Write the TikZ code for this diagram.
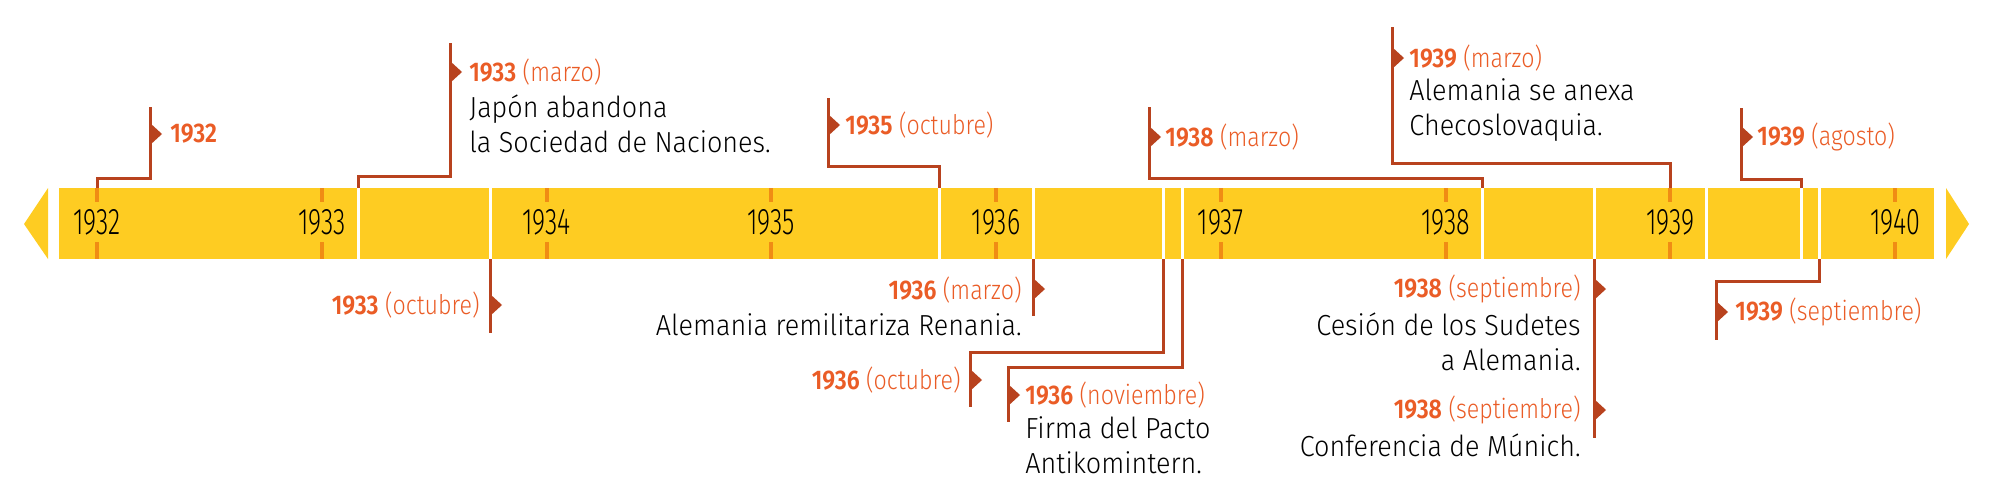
\documentclass[tikz,border=0pt]{standalone}
\usepackage{fontspec}
\setmainfont{Fira Sans Light}[BoldFont={Fira Sans SemiBold}, FakeStretch=0.93]
\newfontfamily\labfont{Fira Sans Light}[BoldFont={Fira Sans SemiBold}, FakeStretch=0.86]
\newfontfamily\barfont{Fira Sans Light}[FakeStretch=0.68]
\definecolor{barYellow}{RGB}{254,204,34}
\definecolor{tickOrange}{RGB}{240,140,20}
\definecolor{rust}{RGB}{184,66,30}
\definecolor{labOrange}{RGB}{234,92,38}
\newcommand{\evflag}[2]{\fill[rust] (#1,#2-11) -- ++(12,11) -- ++(-12,11) -- cycle;}

\begin{document}
\begin{tikzpicture}[x=0.5pt,y=-0.5pt,
  conn/.style={draw=rust,line width=1.5pt},
  yearlab/.style={inner sep=0pt,text=labOrange,font=\labfont\fontsize{13.5}{15}\selectfont},
  body/.style={inner sep=0pt,text=black,font=\fontsize{14.5}{17.5}\selectfont},
  baryear/.style={inner sep=0pt,font=\barfont\fontsize{18.5}{20}\selectfont}]
\useasboundingbox (0,0) rectangle (2000,498);
\fill[barYellow] (59,188) rectangle (1934,259);
\fill[barYellow] (48,188) -- (24,224) -- (48,259) -- cycle;
\fill[barYellow] (1946,188) -- (1969,224) -- (1946,259) -- cycle;
\foreach \yr [count=\i from 0] in {1932,...,1940}{
  \pgfmathsetmacro{\tx}{97+224.75*\i}
  \draw[tickOrange,line width=2pt] (\tx,188) -- (\tx,202) (\tx,242) -- (\tx,259);
  \node[baryear] (y\yr) at (\tx,222) {\yr};
}
\foreach \sx in {358,490,939,1033,1163,1182,1482,1594,1706,1801,1819}
  \draw[white,line width=1.5pt] (\sx,187) -- (\sx,260);

% 1932
\coordinate (b1) at (97,188);
\coordinate (e1) at (150,107);
\draw[conn] (b1) -- ++(0,-10) -| (e1);
\evflag{150}{134}
\node[yearlab,anchor=west] (l1) at (170,134) {\textbf{1932}};
% 1933 marzo
\coordinate (b2) at (358,188);
\coordinate (e2) at (450,43);
\draw[conn] (b2) -- ++(0,-12) -| (e2);
\evflag{450}{72}
\node[yearlab,anchor=west] (l2) at (469,72) {\textbf{1933} (marzo)};
\node[body,anchor=west,align=left] (t2) at (469,124) {Japón abandona\\la Sociedad de Naciones.};
% 1933 octubre
\coordinate (b3) at (490,259);
\coordinate (e3) at (490,333);
\draw[conn] (b3) -- (e3);
\evflag{490}{305}
\node[yearlab,anchor=east] (l3) at (480,305) {\textbf{1933} (octubre)};
% 1935 octubre
\coordinate (b4) at (939,188);
\coordinate (e4) at (828,98);
\draw[conn] (b4) -- ++(0,-22) -| (e4);
\evflag{828}{125}
\node[yearlab,anchor=west] (l4) at (845,125) {\textbf{1935} (octubre)};
% 1936 marzo
\coordinate (b5) at (1033,259);
\coordinate (e5) at (1033,316);
\draw[conn] (b5) -- (e5);
\evflag{1033}{289}
\node[yearlab,anchor=east] (l5) at (1022,290) {\textbf{1936} (marzo)};
\node[body,anchor=east] (t5) at (1022,325) {Alemania remilitariza Renania.};
% 1936 octubre
\coordinate (b6) at (1163,259);
\coordinate (e6) at (970,407);
\draw[conn] (b6) -- ++(0,93) -| (e6);
\evflag{970}{380}
\node[yearlab,anchor=east] (l6) at (961,380) {\textbf{1936} (octubre)};
% 1936 noviembre
\coordinate (b7) at (1182,259);
\coordinate (e7) at (1008,422);
\draw[conn] (b7) -- ++(0,108) -| (e7);
\evflag{1008}{395}
\node[yearlab,anchor=west] (l7) at (1025,395) {\textbf{1936} (noviembre)};
\node[body,anchor=west,align=left] (t7) at (1025,445) {Firma del Pacto\\Antikomintern.};
% 1938 marzo
\coordinate (b8) at (1482,188);
\coordinate (e8) at (1149,107);
\draw[conn] (b8) -- ++(0,-10) -| (e8);
\evflag{1149}{137}
\node[yearlab,anchor=west] (l8) at (1165,137) {\textbf{1938} (marzo)};
% 1939 marzo
\coordinate (b9) at (1670,188);
\coordinate (e9) at (1392,27);
\draw[conn] (b9) -- ++(0,-25) -| (e9);
\evflag{1392}{58}
\node[yearlab,anchor=west] (l9) at (1409,58) {\textbf{1939} (marzo)};
\node[body,anchor=west,align=left] (t9) at (1409,110) {Alemania se anexa\\Checoslovaquia.};
% 1938 septiembre
\coordinate (b10) at (1594,259);
\coordinate (e10) at (1594,438);
\draw[conn] (b10) -- (e10);
\evflag{1594}{289}
\evflag{1594}{410}
\node[yearlab,anchor=east] (l10) at (1581,289) {\textbf{1938} (septiembre)};
\node[body,anchor=east,align=right] (t10) at (1581,342) {Cesión de los Sudetes\\a Alemania.};
\node[yearlab,anchor=east] (l11) at (1581,410) {\textbf{1938} (septiembre)};
\node[body,anchor=east] (t11) at (1581,445) {Conferencia de Múnich.};
% 1939 agosto
\coordinate (b12) at (1801,188);
\coordinate (e12) at (1741,108);
\draw[conn] (b12) -- ++(0,-9) -| (e12);
\evflag{1741}{137}
\node[yearlab,anchor=west] (l12) at (1757,137) {\textbf{1939} (agosto)};
% 1939 septiembre
\coordinate (b13) at (1819,259);
\coordinate (e13) at (1716,340);
\draw[conn] (b13) -- ++(0,22) -| (e13);
\evflag{1716}{312}
\node[yearlab,anchor=west] (l13) at (1735,312) {\textbf{1939} (septiembre)};
\end{tikzpicture}
\end{document}
